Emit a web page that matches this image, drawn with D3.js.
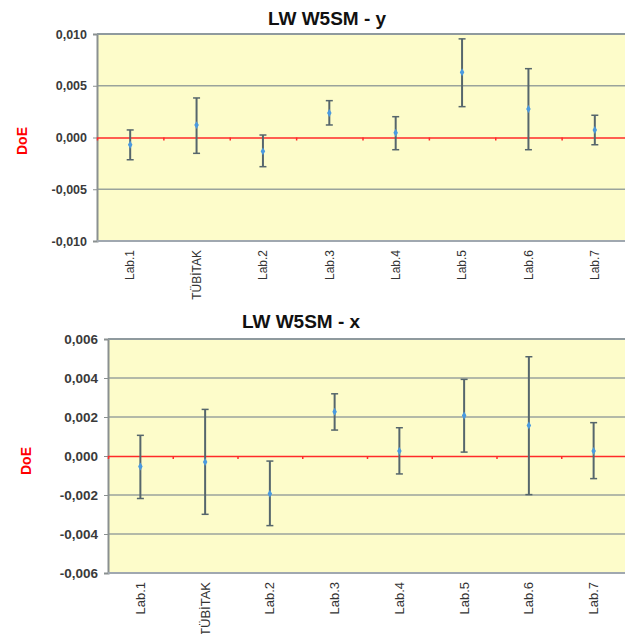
<!DOCTYPE html>
<html lang="en">
<head>
<meta charset="UTF-8">
<title>LW W5SM</title>
<script src="https://d3js.org/d3.v7.min.js"></script>
<style>
    body { margin: 0; background: #fff; }
    text { font-family: Arial, "Liberation Sans", sans-serif; }
    .title { font-weight: bold; fill: #111; }
    .ylab { font-weight: bold; fill: red; }
    .yaxis text { font-weight: bold; fill: #3a3a3a; }
    .xaxis text { fill: #333; }
</style>
</head>
<body>
<script>
const labs = ["Lab.1", "TÜBİTAK", "Lab.2", "Lab.3", "Lab.4", "Lab.5", "Lab.6", "Lab.7"];

// LW W5SM - y
const yDoE   = [-0.0007, 0.0012, -0.00134, 0.00237, 0.00046, 0.0063, 0.00276, 0.00073];
const yUpper = [0.00073, 0.00382, 0.00024, 0.00356, 0.00201, 0.00953, 0.00665, 0.00215];
const yLower = [-0.00215, -0.00153, -0.00282, 0.00121, -0.00118, 0.00298, -0.00118, -0.0007];
const yTicks = [-0.010, -0.005, 0, 0.005, 0.010];

// LW W5SM - x
const xDoE   = [-0.00054, -0.00031, -0.00193, 0.00227, 0.00026, 0.00208, 0.00157, 0.00026];
const xUpper = [0.00106, 0.00239, -0.00026, 0.00319, 0.00145, 0.00393, 0.00509, 0.00171];
const xLower = [-0.00218, -0.00299, -0.00357, 0.00133, -0.00092, 0.0002, -0.00198, -0.00116];
const xTicks = [-0.006, -0.004, -0.002, 0, 0.002, 0.004, 0.006];

const svg = d3.select("body").append("svg")
    .attr("width", 625)
    .attr("height", 634);

const fmt = (d, dec) => d3.format("." + dec + "f")(d).replace(".", ",").replace("−", "-");

function panel(o) {
    const x = d3.scaleBand().domain(labs).range([o.left, o.right]);
    const y = d3.scaleLinear().domain([o.ticks[0], o.ticks[o.ticks.length - 1]]).range([o.bottom, o.top]);
    const g = svg.append("g");

    g.append("rect")
        .attr("x", o.left).attr("y", o.top)
        .attr("width", o.right - o.left).attr("height", o.bottom - o.top)
        .attr("fill", "#fdfcca");

    // gridlines (top one is the plot frame)
    g.selectAll(".grid").data(o.ticks.filter(t => t !== 0 && t !== o.ticks[0])).join("line")
        .attr("x1", o.left).attr("x2", o.right)
        .attr("y1", d => y(d)).attr("y2", d => y(d))
        .attr("stroke", "#9aa39c").attr("stroke-width", 1.5);

    // left axis
    const ya = g.append("g").attr("class", "yaxis")
        .attr("transform", `translate(${o.left},0)`)
        .call(d3.axisLeft(y).tickValues(o.ticks).tickSize(4).tickPadding(6).tickFormat(d => fmt(d, 3)));
    ya.selectAll("text").style("font-size", o.tickFont + "px");
    ya.select(".domain").attr("stroke", "#8a9090").attr("stroke-width", 2);
    ya.selectAll(".tick line").attr("stroke", "#8a9090");

    // bottom border
    g.append("line")
        .attr("x1", o.left).attr("x2", o.right)
        .attr("y1", o.bottom).attr("y2", o.bottom)
        .attr("stroke", "#a0a8b0").attr("stroke-width", 2);

    // zero line (red) with ticks between categories
    const zx = d3.scaleLinear().domain([0, labs.length]).range([o.left, o.right]);
    const za = g.append("g")
        .attr("transform", `translate(0,${y(0)})`)
        .call(d3.axisBottom(zx).tickValues(d3.range(1, labs.length)).tickSize(3).tickFormat(""));
    za.select(".domain").attr("stroke", "#ff2a2a").attr("stroke-width", 1.5);
    za.selectAll(".tick line").attr("stroke", "#ff2a2a").attr("stroke-width", 1.5);

    // category labels
    const xa = g.append("g").attr("class", "xaxis")
        .attr("transform", `translate(0,${o.bottom})`)
        .call(d3.axisBottom(x).tickSize(0).tickPadding(0));
    xa.select(".domain").remove();
    xa.selectAll("text")
        .style("font-size", o.labFont + "px")
        .attr("text-anchor", "end")
        .attr("dy", "0.35em")
        .attr("transform", `translate(0,${o.labGap}) rotate(-90)`)
        .attr("x", 0).attr("y", 0);

    // error bars
    const eb = g.selectAll(".eb").data(labs).join("g")
        .attr("transform", d => `translate(${x(d) + x.bandwidth() / 2},0)`);
    eb.append("line")
        .attr("y1", (d, i) => y(o.upper[i])).attr("y2", (d, i) => y(o.lower[i]))
        .attr("stroke", "#56666c").attr("stroke-width", 2);
    eb.append("line")
        .attr("x1", -3.5).attr("x2", 3.5)
        .attr("y1", (d, i) => y(o.upper[i])).attr("y2", (d, i) => y(o.upper[i]))
        .attr("stroke", "#56666c").attr("stroke-width", 1.5);
    eb.append("line")
        .attr("x1", -3.5).attr("x2", 3.5)
        .attr("y1", (d, i) => y(o.lower[i])).attr("y2", (d, i) => y(o.lower[i]))
        .attr("stroke", "#56666c").attr("stroke-width", 1.5);
    eb.append("path")
        .attr("d", d3.symbol(d3.symbolDiamond, 18))
        .attr("transform", (d, i) => `translate(0,${y(o.values[i])})`)
        .attr("fill", "#4a9ae0");

    // top frame line
    g.append("line")
        .attr("x1", o.left).attr("x2", o.right)
        .attr("y1", o.top).attr("y2", o.top)
        .attr("stroke", "#8f9a9e").attr("stroke-width", 2);

    g.append("text").attr("class", "title")
        .attr("x", o.titleX).attr("y", o.titleY)
        .attr("text-anchor", "middle")
        .style("font-size", "19px")
        .text(o.title);

    g.append("text").attr("class", "ylab")
        .attr("transform", `translate(${o.ylabX},${o.ylabY}) rotate(-90)`)
        .attr("text-anchor", "middle")
        .style("font-size", "14px")
        .text("DoE");
}

panel({
    title: "LW W5SM - y", titleX: 327, titleY: 25,
    left: 97, right: 628, top: 34, bottom: 241,
    ticks: yTicks, values: yDoE, upper: yUpper, lower: yLower,
    tickFont: 12.5, labFont: 12, labGap: 9,
    ylabX: 27, ylabY: 141
});

panel({
    title: "LW W5SM - x", titleX: 301, titleY: 328,
    left: 108, right: 626, top: 339, bottom: 573,
    ticks: xTicks, values: xDoE, upper: xUpper, lower: xLower,
    tickFont: 13.5, labFont: 13, labGap: 9,
    ylabX: 31, ylabY: 461
});
</script>
</body>
</html>
